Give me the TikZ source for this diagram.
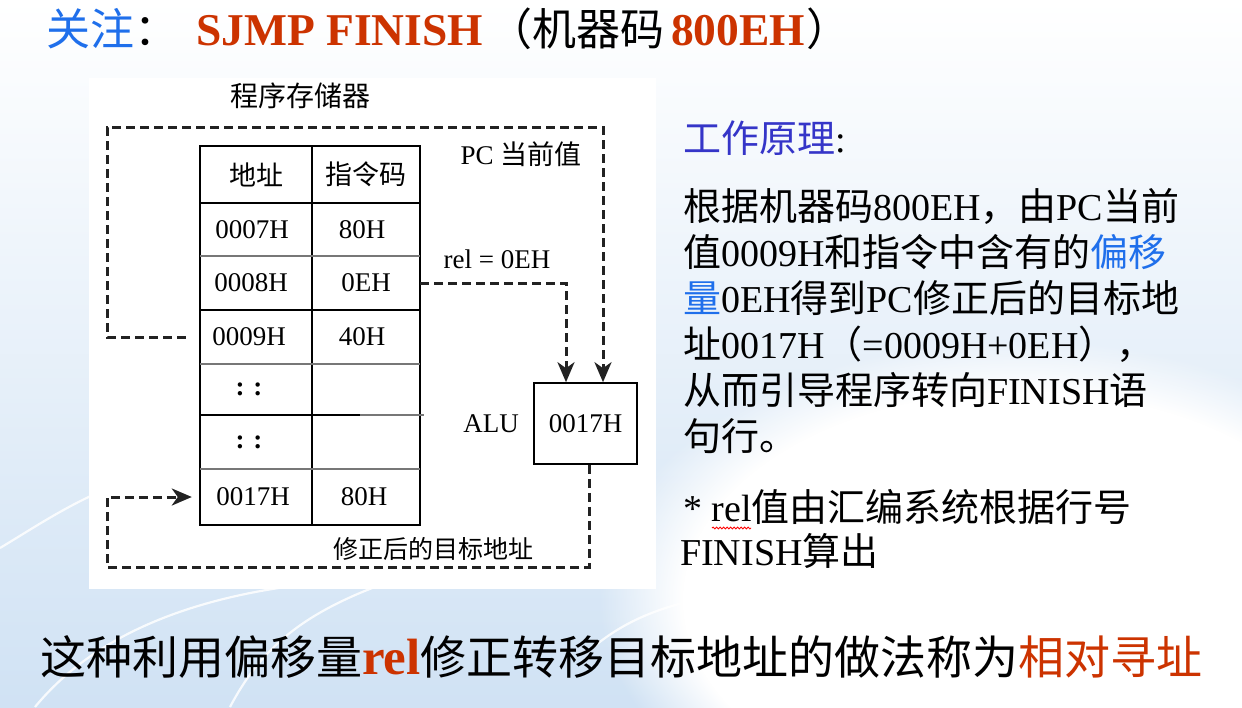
\documentclass[tikz,border=0pt]{standalone}
\usepackage{fontspec}
\setmainfont{Liberation Serif}
\newfontfamily\zhf{Noto Sans CJK SC}
\newcommand\zh[1]{{\zhf #1}}
\usetikzlibrary{arrows.meta,decorations.pathmorphing,fadings}
\definecolor{zblue}{HTML}{1F6FEB}
\definecolor{zred}{HTML}{CC3300}
\definecolor{zpurple}{HTML}{3535C8}
\definecolor{bgblue}{HTML}{D0E2F4}
\definecolor{lineg}{HTML}{222222}
\definecolor{rowg}{HTML}{777777}
\begin{document}
\begin{tikzpicture}[x=1pt,y=-1pt,
  lbl/.style={inner sep=0pt, font=\fontsize{27}{30}\selectfont},
  cella/.style={lbl, minimum width=112pt, minimum height=52pt},
  cellc/.style={lbl, minimum width=108pt, minimum height=52pt},
  dashconn/.style={draw=lineg, line width=3pt, dash pattern=on 9pt off 5pt},
  tip/.style={-{Stealth[length=20pt,width=17pt,inset=6pt]}},
  ptext/.style={inner sep=0pt, anchor=base west, font=\fontsize{38}{46}\selectfont},
  ttl/.style={inner sep=0pt, anchor=base west, font=\fontsize{44}{50}\selectfont},
  ttlb/.style={inner sep=0pt, anchor=base west, font=\fontsize{45.5}{50}\selectfont\bfseries, text=zred},
  arcline/.style={draw=white, line width=2.2pt, opacity=0.85},
]
\useasboundingbox (0,0) rectangle (1242,707);
% background
\shade[top color=white, bottom color=bgblue] (0,0) rectangle (1242,707);
\fill[white, path fading=circle with fuzzy edge 20 percent] (1020,600) ellipse (420 and 260);
\draw[arcline] (0,548) .. controls (30,530) and (60,510) .. (95,494);
\draw[arcline] (35,707) .. controls (90,640) and (180,600) .. (300,585);
\draw[arcline] (230,707) .. controls (260,650) and (300,615) .. (380,585);
\draw[arcline] (590,650) .. controls (630,615) and (680,598) .. (760,590);
% white panel
\fill[white] (89,78) rectangle (656,589);

% title
\node[ttl, text=zblue] (t1) at (46,45) {\zh{关注}\textcolor{black}{\zh{：}}};
\node[ttlb] (t2) at (196,45) {SJMP FINISH};
\node[ttl] (t3) at (488,45) {\zh{（机器码}};
\node[ttlb] (t4) at (671,45) {800EH};
\node[ttl] (t5) at (806,45) {\zh{）}};

% memory label
\node[inner sep=0pt, font=\fontsize{28}{30}\selectfont] (mem) at (300,96) {\zh{程序存储器}};

% table grid
\draw[black, line width=1.6pt] (200,146) rectangle (420,525);
\draw[black, line width=1.6pt] (312,146) -- (312,525);
\draw[black, line width=1.6pt] (200,203) -- (420,203);
\draw[rowg, line width=1.6pt] (200,256) -- (420,256);
\draw[black, line width=1.6pt] (200,310) -- (420,310);
\draw[rowg, line width=1.6pt] (200,364) -- (420,364);
\draw[black, line width=1.6pt] (200,415) -- (360,415);
\draw[rowg, line width=1.6pt] (360,415) -- (424,415);
\draw[rowg, line width=1.6pt] (200,469) -- (420,469);

% table cells
\node[cella] (h1) at (256,174.5) {\zh{地址}};
\node[cellc] (h2) at (366,174.5) {\zh{指令码}};
\node[cella] (a7) at (252,229.5) {0007H};
\node[cellc] (c7) at (362,229.5) {80H};
\node[cella] (a8) at (251,283) {0008H};
\node[cellc] (c8) at (366,283) {0EH};
\node[cella] (a9) at (249,337) {0009H};
\node[cellc] (c9) at (362,337) {40H};
\node[cella] (ad1) at (249,389.5) {\bfseries : :};
\node[cella] (ad2) at (249,442) {\bfseries : :};
\node[cella] (a17) at (253,497) {0017H};
\node[cellc] (c17) at (364,497) {80H};

% labels
\node[lbl] (pc) at (521,154) {PC \zh{当前值}};
\node[lbl] (rel) at (497,259) {rel = 0EH};
\node[lbl] (alulbl) at (491,424) {ALU};
\node[inner sep=0pt, font=\fontsize{25}{28}\selectfont] (tgt) at (433,549) {\zh{修正后的目标地址}};

% ALU box
\node[draw=black, line width=1.6pt, inner sep=0pt, minimum width=103pt, minimum height=81pt, font=\fontsize{27}{30}\selectfont] (alu) at (585.5,423.5) {0017H};

% connectors
\coordinate (pcL) at (107,127);
\coordinate (pcR) at (603,127);
\draw[dashconn, tip] ([xshift=-7pt]a9.west) -| (pcL) -- (pcR) -- (pcR |- alu.north);
\coordinate (relc) at (566,283);
\draw[dashconn, tip] (c8.east) -- (relc) -- (relc |- alu.north);
\coordinate (btmR) at (589,567);
\coordinate (btmL) at (107,567);
\draw[dashconn, tip, shorten >=2pt] (alu.south -| btmR) -- (btmR) -- (btmL) |- ([xshift=-3pt]a17.west);

% right text
\node[ptext, text=zpurple] (wp) at (683,152) {\zh{工作原理}\textcolor{black}{:}};
\node[ptext] (p1) at (683,220) {\zh{根据机器码}800EH\zh{，由}PC\zh{当前}};
\node[ptext] (p2) at (683,266) {\zh{值}0009H\zh{和指令中含有的}\textcolor{zblue}{\zh{偏移}}};
\node[ptext] (p3) at (683,312) {\textcolor{zblue}{\zh{量}}0EH\zh{得到}PC\zh{修正后的目标地}};
\node[ptext] (p4) at (683,358) {\zh{址}0017H\zh{（}=0009H+0EH\zh{），}};
\node[ptext] (p5) at (683,404) {\zh{从而引导程序转向}FINISH\zh{语}};
\node[ptext] (p6) at (683,450) {\zh{句行。}};
\node[ptext] (n1) at (683,521) {* rel\zh{值由汇编系统根据行号}};
\node[ptext] (n2) at (680,565) {FINISH\zh{算出}};
\draw[red, line width=0.8pt, decorate, decoration={snake, amplitude=1pt, segment length=3.5pt}] (712,528) -- (751,528);

% conclusion
\node[inner sep=0pt, anchor=base west, font=\fontsize{46}{50}\selectfont] (concl) at (40,674) {\zh{这种利用偏移量}\textcolor{zred}{\fontsize{51}{52}\selectfont\bfseries rel}\zh{修正转移目标地址的做法称为}\textcolor{zred}{\zh{相对寻址}}};
\end{tikzpicture}
\end{document}
